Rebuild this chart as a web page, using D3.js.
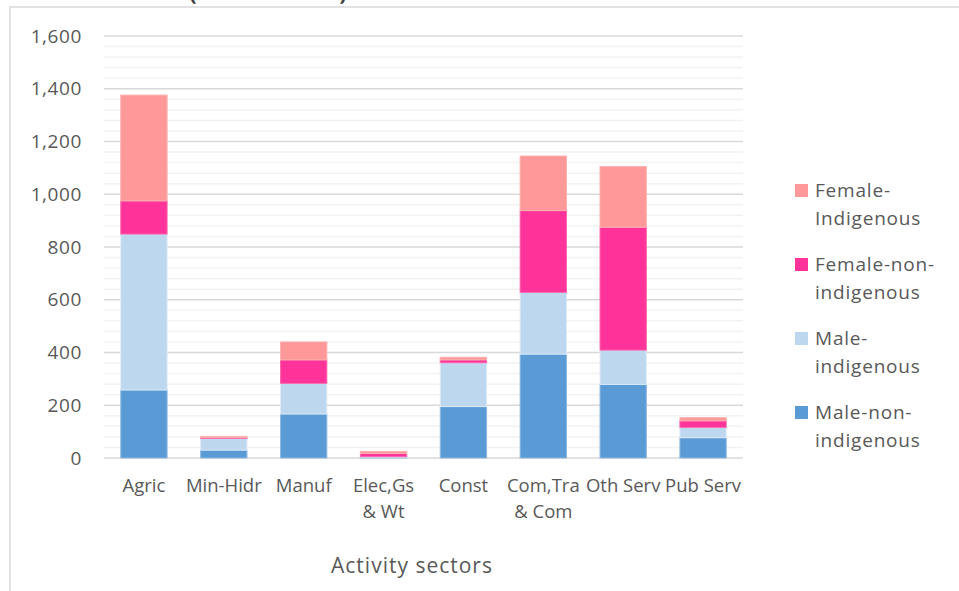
<!DOCTYPE html>
<html>
<head>
<meta charset="utf-8">
<script src="https://cdn.jsdelivr.net/npm/d3@7"></script>
<style>
  body { margin: 0; background: #fff; }
  text { font-family: "Open Sans", sans-serif; fill: #595959; }
</style>
</head>
<body>
<svg id="chart"></svg>
<script>
var sectors = ["Agric", "Min-Hidr", "Manuf", "Elec,Gs\n& Wt", "Const", "Com,Tra\n& Com", "Oth Serv", "Pub Serv"];
var series = ["Male-non-indigenous", "Male-indigenous", "Female-non-indigenous", "Female-Indigenous"];
var maleNonIndigenous   = [258, 30, 167, 3, 195, 394, 279, 77];
var maleIndigenous      = [591, 44, 116, 2, 166, 234, 130, 39];
var femaleNonIndigenous = [126, 3, 89, 12, 11, 310, 466, 25];
var femaleIndigenous    = [401, 5, 68, 8, 10, 207, 230, 12];
var yTicks = [0, 200, 400, 600, 800, 1000, 1200, 1400, 1600];
var legendLabels = [["Female-", "Indigenous"], ["Female-non-", "indigenous"], ["Male-", "indigenous"], ["Male-non-", "indigenous"]];

var colors = {
  "Male-non-indigenous": "#5b9bd5",
  "Male-indigenous": "#bdd7ee",
  "Female-non-indigenous": "#ff3399",
  "Female-Indigenous": "#ff9999"
};
var strokes = {
  "Male-non-indigenous": "#8db9e3",
  "Male-indigenous": "#deebf7",
  "Female-non-indigenous": "#ff66b0",
  "Female-Indigenous": "#ffb0b0"
};

var width = 959, height = 591;
var plot = {left: 104, right: 743, top: 36, bottom: 458};

var svg = d3.select("#chart")
  .attr("width", width)
  .attr("height", height);

// chart frame
svg.append("path")
  .attr("d", "M10," + height + "V7H" + width)
  .attr("fill", "none")
  .attr("stroke", "#d9d9d9")
  .attr("stroke-width", 1.5);

// title, cut at the top like in the original
svg.append("text")
  .attr("x", 268)
  .attr("y", 0)
  .attr("text-anchor", "middle")
  .style("font-size", "22px")
  .style("font-weight", "bold")
  .style("fill", "#404040")
  .text("(in thousands)");

var data = sectors.map(function(s, i) {
  return {
    sector: s,
    "Male-non-indigenous": maleNonIndigenous[i],
    "Male-indigenous": maleIndigenous[i],
    "Female-non-indigenous": femaleNonIndigenous[i],
    "Female-Indigenous": femaleIndigenous[i]
  };
});

var x = d3.scaleBand().domain(sectors)
  .range([plot.left, plot.right])
  .paddingInner(0.42)
  .paddingOuter(0.21);
var y = d3.scaleLinear().domain([0, 1600]).range([plot.bottom, plot.top]);

// minor grid
svg.append("g")
  .selectAll("line")
  .data(d3.range(0, 1601, 40).filter(function(v) { return v % 200 != 0; }))
  .enter()
  .append("line")
    .attr("x1", plot.left).attr("x2", plot.right)
    .attr("y1", function(d) { return y(d); })
    .attr("y2", function(d) { return y(d); })
    .attr("stroke", "#f2f2f2")
    .attr("stroke-width", 1.5);

// major grid
svg.append("g")
  .selectAll("line")
  .data(yTicks)
  .enter()
  .append("line")
    .attr("x1", plot.left).attr("x2", plot.right)
    .attr("y1", function(d) { return y(d); })
    .attr("y2", function(d) { return y(d); })
    .attr("stroke", "#d9d9d9")
    .attr("stroke-width", 1.5);

// y labels
var yAxis = svg.append("g")
  .attr("transform", "translate(" + (plot.left - 22) + ",0)")
  .call(d3.axisLeft(y).tickValues(yTicks).tickSize(0).tickPadding(0).tickFormat(d3.format(",")));
yAxis.select(".domain").remove();
yAxis.selectAll("text")
  .style("font-size", "19px")
  .style("letter-spacing", "0.6px")
  .style("font-family", "'Open Sans', sans-serif")
  .attr("fill", "#595959");

// stacked bars
var stacked = d3.stack().keys(series)(data);
svg.append("g")
  .selectAll("g")
  .data(stacked)
  .enter()
  .append("g")
    .attr("fill", function(d) { return colors[d.key]; })
    .attr("stroke", function(d) { return strokes[d.key]; })
  .selectAll("rect")
  .data(function(d) { return d; })
  .enter()
  .append("rect")
    .attr("x", function(d) { return x(d.data.sector); })
    .attr("width", x.bandwidth())
    .attr("y", function(d) { return y(d[1]); })
    .attr("height", function(d) { return y(d[0]) - y(d[1]); })
    .attr("stroke-width", 1);

// x labels
var xl = svg.append("g")
  .selectAll("text")
  .data(sectors)
  .enter()
  .append("text")
    .attr("text-anchor", "middle")
    .style("font-size", "18.5px")
    .attr("y", 492);
xl.selectAll("tspan")
  .data(function(d) { return d.split("\n").map(function(t) { return {t: t, s: d}; }); })
  .enter()
  .append("tspan")
    .attr("x", function(d) { return x(d.s) + x.bandwidth() / 2; })
    .attr("dy", function(d, i) { return i == 0 ? 0 : 26; })
    .text(function(d) { return d.t; });

// axis title
svg.append("text")
  .attr("x", 412)
  .attr("y", 573)
  .attr("text-anchor", "middle")
  .style("font-size", "21px")
  .style("letter-spacing", "1px")
  .text("Activity sectors");

// legend
var legendKeys = series.slice().reverse();
var lg = svg.append("g")
  .selectAll("g")
  .data(legendKeys)
  .enter()
  .append("g")
    .attr("transform", function(d, i) { return "translate(795," + (184 + 74 * i) + ")"; });
lg.append("rect")
  .attr("width", 13)
  .attr("height", 13)
  .attr("fill", function(d) { return colors[d]; });
lg.append("text")
  .attr("x", 20)
  .attr("y", 13)
  .style("font-size", "19px")
  .style("letter-spacing", "0.8px")
  .selectAll("tspan")
  .data(function(d, i) { return legendLabels[i]; })
  .enter()
  .append("tspan")
    .attr("x", 20)
    .attr("dy", function(d, i) { return i == 0 ? 0 : 28; })
    .text(function(d) { return d; });
</script>
</body>
</html>
